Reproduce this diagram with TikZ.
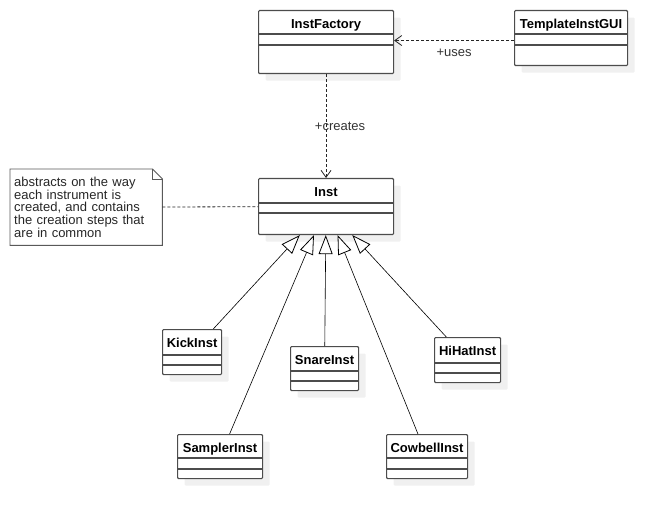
\documentclass[tikz,border=0pt]{standalone}
\usepackage{fontspec}
\setmainfont{Liberation Sans}
\usetikzlibrary{positioning}
\usetikzlibrary{shadows, arrows.meta}

\tikzset{
  umlclass/.style={draw=black!70, line width=1.1pt, rounded corners=1pt, fill=white,
    anchor=north west, inner xsep=3pt, inner ysep=0pt, text height=18pt,
    font=\fontsize{13}{15}\selectfont\bfseries,
    drop shadow={shadow xshift=7pt, shadow yshift=-7pt, fill=black!6, opacity=1}},
  umlsep/.style={draw=black!70, line width=1.1pt},
  notebox/.style={draw=black!65, line width=0.9pt},
  notetext/.style={font=\fontsize{13}{12.7}\selectfont, text=black!85, align=left,
    text width=144pt, inner xsep=4pt, inner ysep=0pt},
  dep/.style={black!85, line width=0.8pt, dash pattern=on 3pt off 2pt,
    -{Straight Barb[length=7pt, width=10pt, line width=0.8pt]}},
  noteline/.style={black!85, line width=0.8pt, dash pattern=on 3pt off 2pt},
  realize/.style={black, line width=0.6pt,
    -{Triangle[length=19pt, width=14pt, fill=white, line width=0.8pt]}},
  lbl/.style={font=\fontsize{13}{15}\selectfont, text=black!80}
}

% two compartment lines below the class name
\newcommand{\classlines}[3]{%
  \draw[umlsep] ([yshift=-#2pt]#1.north west) -- ([yshift=-#2pt]#1.north east);
  \draw[umlsep] ([yshift=-#3pt]#1.north west) -- ([yshift=-#3pt]#1.north east);}

\begin{document}
\begin{tikzpicture}[x=1pt, y=-1pt]
      \useasboundingbox (0,0) rectangle (666,518);

      % Factory und GUI
      \node[umlclass, minimum width=135pt, text depth=45pt] (factory) at (258,10) {InstFactory};
      \classlines{factory}{24}{35}
      \node[umlclass, minimum width=113pt, text depth=37pt] (tgui) at (514,10) {TemplateInstGUI};
      \classlines{tgui}{24}{35}

      % Basisklasse
      \node[umlclass, minimum width=135pt, text depth=38pt] (inst) at (258,178) {Inst};
      \classlines{inst}{25}{35}

      % Instrumente
      \node[umlclass, minimum width=59pt, text depth=27pt] (kick) at (162,329) {KickInst};
      \classlines{kick}{26}{36}
      \node[umlclass, minimum width=68pt, text depth=26pt] (snare) at (290,346) {SnareInst};
      \classlines{snare}{25}{35}
      \node[umlclass, minimum width=66pt, text depth=27pt] (hihat) at (434,337) {HiHatInst};
      \classlines{hihat}{26}{36}
      \node[umlclass, minimum width=85pt, text depth=26pt] (sampler) at (177,434) {SamplerInst};
      \classlines{sampler}{24}{35}
      \node[umlclass, minimum width=81pt, text depth=26pt] (cowbell) at (386,434) {CowbellInst};
      \classlines{cowbell}{24}{35}

      % Notiz
      \node[notetext, anchor=north west, minimum height=76pt] (note) at (10,169)
        {abstracts on the way\\each instrument is\\created, and contains\\the creation steps that\\are in common};
      \draw[notebox] (note.north west) -- ([xshift=-10pt]note.north east)
        -- ([yshift=-10pt]note.north east) -- (note.south east) -- (note.south west) -- cycle;
      \draw[notebox] ([xshift=-10pt]note.north east) -- ++(0,10) -- ([yshift=-10pt]note.north east);
      \draw[noteline] (note) -- (inst);

      % Abhaengigkeiten
      \draw[dep] ([yshift=-2.5pt]tgui.west) -- ([yshift=-2.5pt]tgui.west -| factory.east)
        node[lbl, midway, below=5pt] (useslbl) {+uses};
      \draw[dep] (factory) -- (inst)
        node[lbl, midway, xshift=14pt] (createslbl) {+creates};

      % Vererbung
      \draw[realize] (kick) -- (inst);
      \draw[realize] (sampler) -- (inst);
      \draw[realize] (snare) -- (inst);
      \draw[realize] (cowbell) -- (inst);
      \draw[realize] (hihat) -- (inst);
\end{tikzpicture}
\end{document}
